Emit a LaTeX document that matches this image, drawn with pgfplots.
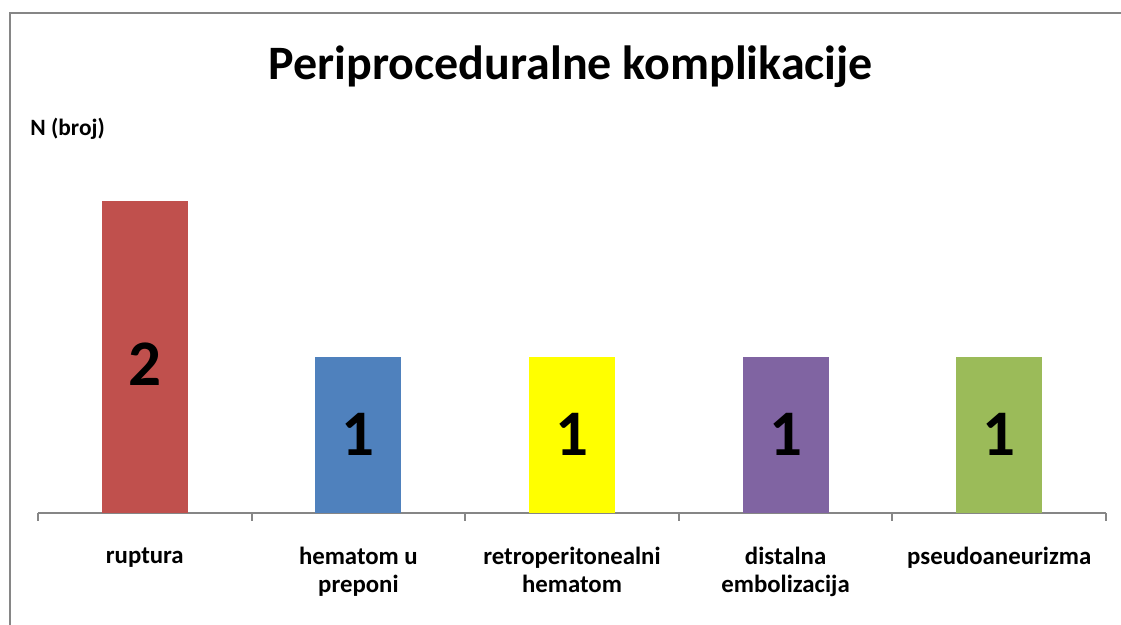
\documentclass[border=0pt]{standalone}
\usepackage{fontspec}
\setmainfont{Carlito}
\usepackage{pgfplots}
\pgfplotsset{compat=1.18}
\definecolor{cRed}{HTML}{C0504D}
\definecolor{cBlue}{HTML}{4F81BD}
\definecolor{cYellow}{HTML}{FFFF00}
\definecolor{cPurple}{HTML}{8064A2}
\definecolor{cGreen}{HTML}{9BBB59}
\definecolor{frame}{HTML}{868686}
\begin{document}
\begin{tikzpicture}
\useasboundingbox (0,0) rectangle (560.5pt,312.5pt);
\draw[frame, line width=1pt] (5pt,0) -- (5pt,306pt) -- (560.5pt,306pt);
\begin{axis}[
  at={(19pt,56pt)}, anchor=south west,
  scale only axis, width=534pt, height=195pt,
  xmin=-0.5, xmax=4.5, ymin=0, ymax=2.5,
  axis y line=none, axis x line*=bottom,
  axis line style={frame, line width=1pt},
  xtick={0,...,4},
  xticklabels={ruptura,hematom u\\preponi,retroperitonealni\\hematom,distalna\\embolizacija,pseudoaneurizma},
  major tick length=0pt,
  minor xtick={-0.5,0.5,...,4.5},
  minor tick length=4pt,
  xtick align=outside,
  tick style={frame, line width=1pt},
  xticklabel style={font=\fontsize{12.4}{14}\selectfont\bfseries, align=center, anchor=north, inner sep=0pt, yshift=-17pt},
  clip=false,
]
\addplot[ybar, bar width=43pt, bar shift=0pt, fill=cRed, draw=none] coordinates {(0,2)};
\addplot[ybar, bar width=43pt, bar shift=0pt, fill=cBlue, draw=none] coordinates {(1,1)};
\addplot[ybar, bar width=43pt, bar shift=0pt, fill=cYellow, draw=none] coordinates {(2,1)};
\addplot[ybar, bar width=43pt, bar shift=0pt, fill=cPurple, draw=none] coordinates {(3,1)};
\addplot[ybar, bar width=43pt, bar shift=0pt, fill=cGreen, draw=none] coordinates {(4,1)};
\addplot[only marks, mark=none, nodes near coords, point meta=explicit symbolic,
  nodes near coords style={anchor=center, inner sep=0pt, font=\fontsize{32.5}{36}\selectfont\bfseries}]
  coordinates {(0,0.955)[2] (1,0.503)[1] (2,0.503)[1] (3,0.503)[1] (4,0.503)[1]};
\end{axis}
\node[anchor=base, font=\fontsize{24}{28}\selectfont\bfseries] at (285.5pt,272.5pt) {Periproceduralne komplikacije};
\node[anchor=base west, inner sep=0pt, font=\fontsize{11.7}{13}\selectfont\bfseries] at (15pt,244.5pt) {N (broj)};
\end{tikzpicture}
\end{document}
